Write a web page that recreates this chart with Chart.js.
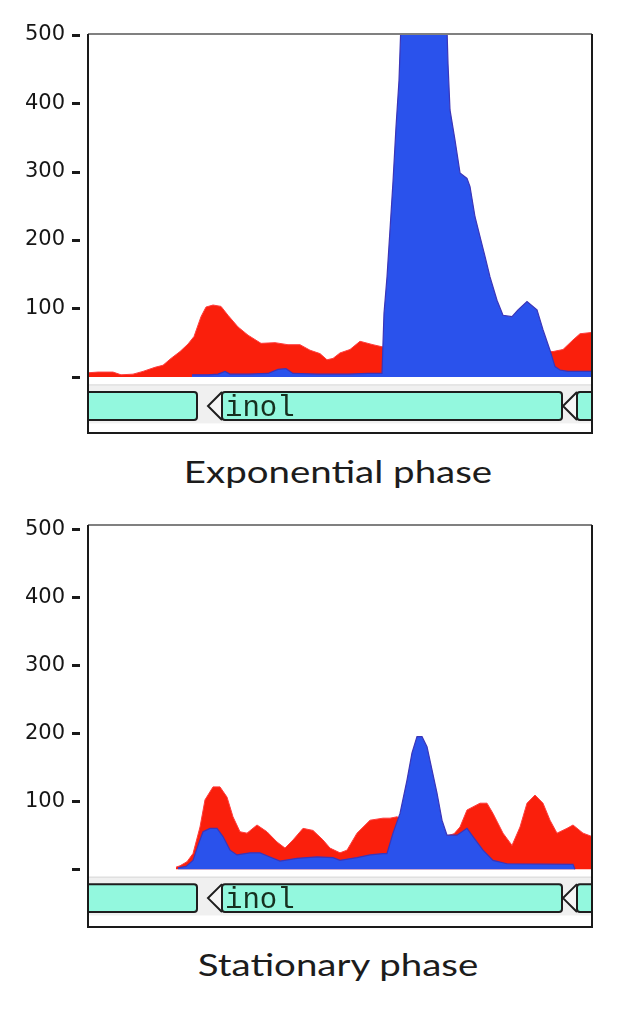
<!DOCTYPE html>
<html>
<head>
<meta charset="utf-8">
<script src="https://cdn.jsdelivr.net/npm/chart.js@4"></script>
<style>
  body { margin: 0; background: #fff; width: 621px; height: 1011px; position: relative; overflow: hidden; }
  .panel { position: absolute; left: 0; width: 621px; height: 450px; }
  .title { position: absolute; left: 0; width: 676px; text-align: center;
           font-family: Lato, "Open Sans", sans-serif; font-size: 31px; line-height: 1.2; color: #1c1c1c;
           transform: scaleX(1.24); transform-origin: 338px 0; }
</style>
</head>
<body>
<div class="panel" style="top:0"><canvas id="top-chart" width="621" height="450"></canvas></div>
<div class="title" style="top:453px">Exponential phase</div>
<div class="panel" style="top:490px"><canvas id="bot-chart" width="621" height="450"></canvas></div>
<div class="title" style="top:946px">Stationary phase</div>

<script>
// track position (0 = left edge of the panel) and read-count values
const topRedX  = [0, 10, 25, 33, 45, 55, 67, 75, 83, 92, 100, 106, 113, 118, 125, 133, 140, 150, 160, 173, 187, 200, 212, 222, 232, 239, 245, 252, 262, 272, 285, 294, 310, 360, 440, 465, 475, 485, 492, 504];
const topRedY  = [6, 7, 7, 3, 4, 8, 14, 17, 27, 37, 48, 59, 88, 102, 105, 103, 90, 73, 61, 49, 50, 47, 47, 39, 34, 25, 27, 35, 40, 52, 47, 44, 40, 40, 40, 37, 40, 54, 63, 65];

const topBlueX = [104, 120, 130, 137, 142, 160, 180, 190, 198, 205, 230, 260, 280, 294, 296, 299, 302, 305, 308, 311, 314, 358, 360, 362, 367, 372, 379, 382, 387, 392, 397, 402, 409, 415, 424, 430, 439, 449, 455, 462, 467, 472, 480, 504];
const topBlueY = [3, 3, 4, 8, 4, 4, 5, 11, 12, 5, 4, 4, 5, 5, 93, 146, 215, 285, 365, 433, 560, 560, 458, 390, 346, 298, 290, 278, 234, 205, 176, 146, 112, 90, 88, 98, 110, 98, 69, 39, 15, 10, 8, 8];

const botRedX  = [88, 92, 99, 105, 112, 117, 125, 132, 139, 145, 152, 159, 169, 179, 189, 197, 205, 215, 225, 235, 242, 252, 259, 269, 282, 295, 302, 309, 340, 359, 366, 372, 379, 392, 399, 405, 415, 424, 432, 439, 447, 455, 462, 469, 479, 485, 495, 504];
const botRedY  = [3, 5, 11, 23, 62, 102, 121, 121, 106, 77, 55, 53, 65, 55, 40, 31, 43, 60, 57, 43, 31, 24, 28, 53, 72, 75, 75, 77, 55, 49, 52, 62, 87, 97, 97, 82, 53, 35, 62, 97, 109, 97, 72, 53, 60, 65, 53, 48];

const botBlueX = [90, 98, 105, 110, 115, 122, 129, 135, 142, 149, 162, 172, 182, 192, 209, 229, 245, 252, 269, 282, 295, 299, 305, 312, 319, 324, 329, 334, 339, 344, 349, 354, 359, 369, 379, 385, 395, 405, 419, 485, 487];
const botBlueY = [2, 4, 13, 35, 55, 60, 60, 48, 28, 21, 24, 24, 18, 12, 16, 18, 17, 13, 17, 21, 23, 23, 53, 82, 131, 171, 195, 195, 180, 146, 112, 72, 50, 50, 60, 48, 28, 13, 8, 7, 0];

const yTicks = [0, 100, 200, 300, 400, 500];

// gene track under the coverage
const geneStart = [-10, 120, 475];
const geneEnd   = [109, 474, 530];
const geneArrow = [false, true, true];
const geneLabel = ["", "inol", ""];
const trackBand = [-11, -68];
const geneBox   = [-22, -63];

const RED = "#fa1f0c";
const BLUE = "#2a52ec";

const pts = (xs, ys) => xs.map((x, i) => ({ x, y: ys[i] }));

const trackPlugin = {
  id: "track",
  beforeDatasetsDraw(chart) {
    const ctx = chart.ctx;
    const { left, right, top, bottom } = chart.chartArea;
    const xs = chart.scales.x, ys = chart.scales.y;
    ctx.save();
    ctx.beginPath();
    ctx.rect(left, top, right - left, bottom - top);
    ctx.clip();

    const b0 = ys.getPixelForValue(trackBand[0]);
    const b1 = ys.getPixelForValue(trackBand[1]);
    ctx.fillStyle = "#f0f0f0";
    ctx.fillRect(left, b0, right - left, b1 - b0);
    ctx.fillStyle = "#d8d8d8";
    ctx.fillRect(left, b0, right - left, 1);

    const bt = ys.getPixelForValue(geneBox[0]);
    const bb = ys.getPixelForValue(geneBox[1]);
    ctx.lineWidth = 2;
    ctx.strokeStyle = "#1e1e1e";
    geneStart.forEach((s, i) => {
      const x0 = xs.getPixelForValue(s);
      const x1 = xs.getPixelForValue(geneEnd[i]);
      let bodyX = x0;
      if (geneArrow[i]) {
        bodyX = x0 + 14;
        ctx.beginPath();
        ctx.moveTo(bodyX, bt);
        ctx.lineTo(x0, (bt + bb) / 2);
        ctx.lineTo(bodyX, bb);
        ctx.fillStyle = "#f6f6f6";
        ctx.fill();
        ctx.stroke();
      }
      ctx.beginPath();
      ctx.roundRect(bodyX, bt, x1 - bodyX, bb - bt, 3);
      ctx.fillStyle = "#93f8de";
      ctx.fill();
      ctx.stroke();
      if (geneLabel[i]) {
        ctx.fillStyle = "#16301f";
        ctx.font = "29px 'Liberation Mono', monospace";
        ctx.textBaseline = "alphabetic";
        ctx.fillText(geneLabel[i], bodyX + 3, bb - 4);
      }
    });
    ctx.restore();
  },
  afterDraw(chart) {
    const ctx = chart.ctx;
    const { left, right, top, bottom } = chart.chartArea;
    const ys = chart.scales.y;
    ctx.save();
    // little dash next to each tick label
    ctx.fillStyle = "#1a1a1a";
    ys.ticks.forEach(t => {
      const y = Math.round(ys.getPixelForValue(t.value));
      ctx.fillRect(left - 16, y - 1, 8, 3);
    });
    ctx.lineWidth = 2;
    ctx.strokeStyle = "#808080";
    ctx.beginPath();
    ctx.moveTo(left, top);
    ctx.lineTo(right, top);
    ctx.stroke();
    ctx.strokeStyle = "#1a1a1a";
    ctx.beginPath();
    ctx.moveTo(right, top);
    ctx.lineTo(right, bottom);
    ctx.lineTo(left, bottom);
    ctx.lineTo(left, top);
    ctx.stroke();
    ctx.restore();
  }
};

function makeChart(id, red, blue, yMin, yMax, padTop, padBottom) {
  return new Chart(document.getElementById(id), {
    type: "line",
    data: {
      datasets: [
        {
          data: blue,
          order: 1,
          borderColor: "#3b35b8",
          borderWidth: 1.2,
          backgroundColor: BLUE,
          fill: "origin",
          pointRadius: 0,
          tension: 0,
          clip: 0
        },
        {
          data: red,
          order: 2,
          borderColor: "#ff3b3b",
          borderWidth: 1,
          backgroundColor: RED,
          fill: "origin",
          pointRadius: 0,
          tension: 0,
          clip: 0
        }
      ]
    },
    options: {
      responsive: false,
      animation: false,
      devicePixelRatio: 1,
      layout: { padding: { top: padTop, bottom: padBottom, left: 25, right: 29 } },
      plugins: { legend: { display: false }, tooltip: { enabled: false } },
      scales: {
        x: { type: "linear", min: 0, max: 504, display: false },
        y: {
          min: yMin,
          max: yMax,
          afterBuildTicks: s => { s.ticks = yTicks.map(v => ({ value: v })); },
          afterFit: s => { s.width = 63; },
          grid: { display: false },
          border: { display: false },
          ticks: {
            padding: 0,
            crossAlign: "far",
            color: "#161616",
            font: { family: "'DejaVu Sans'", size: 21 },
            callback: v => v === 0 ? "" : String(v)
          }
        }
      }
    },
    plugins: [trackPlugin]
  });
}

makeChart("top-chart", pts(topRedX, topRedY), pts(topBlueX, topBlueY), -82, 501, 34, 17);
makeChart("bot-chart", pts(botRedX, botRedY), pts(botBlueX, botBlueY), -85, 506, 35, 13);
</script>
</body>
</html>
